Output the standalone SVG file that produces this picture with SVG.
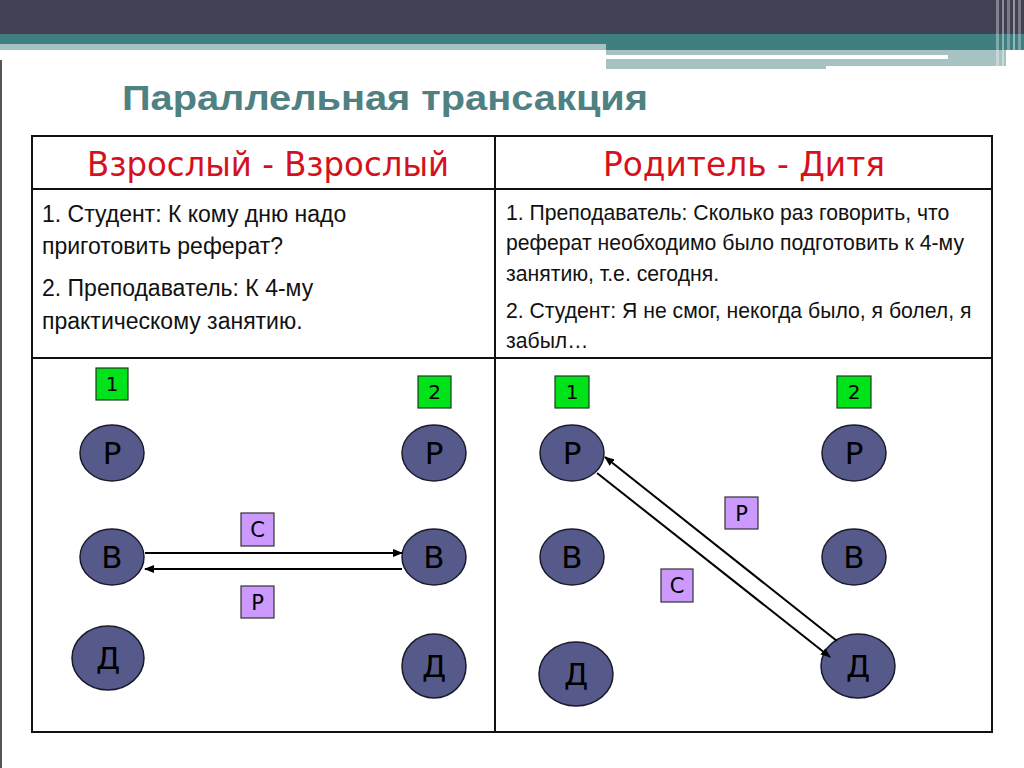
<svg xmlns="http://www.w3.org/2000/svg" width="1024" height="768" viewBox="0 0 1024 768">
<defs>
<style>
.title{font-family:"Liberation Sans",Arial,sans-serif;font-weight:bold;font-size:35px;fill:#4f8182}
.hdr{font-family:"DejaVu Sans","Noto Sans",sans-serif;font-size:34px;fill:#d4111c}
.t1{font-family:"Liberation Sans",Arial,sans-serif;font-size:23px;fill:#111}
.t2{font-family:"Liberation Sans",Arial,sans-serif;font-size:21.2px;fill:#111}
.grid{stroke:#111;stroke-width:2;fill:none}
.ego{fill:#565a8b;stroke:#1b1b2b;stroke-width:1.5}
.el{font-family:"DejaVu Sans","Noto Sans",sans-serif;font-size:31px;fill:#000;text-anchor:middle}
.num{fill:#00e21a;stroke:#1d3b1d;stroke-width:1.2}
.numt{font-family:"DejaVu Sans","Noto Sans",sans-serif;font-size:20px;fill:#000;text-anchor:middle}
.lab{fill:#cc99ff;stroke:#333;stroke-width:1.2}
.labt{font-family:"DejaVu Sans","Noto Sans",sans-serif;font-size:21px;fill:#000;text-anchor:middle}
.arr{stroke:#000;stroke-width:2;fill:none;marker-end:url(#ah)}
</style>
<marker id="ah" markerUnits="userSpaceOnUse" markerWidth="10" markerHeight="8" refX="9" refY="4" orient="auto">
<path d="M0,0 L10,4 L0,8 Z" fill="#000"/>
</marker>
</defs>
<rect width="1024" height="768" fill="#fff"/>
<g id="header-band">
<rect x="0" y="0" width="1024" height="34" fill="#404152"/>
<rect x="0" y="34" width="1024" height="10" fill="#3f7f80"/>
<rect x="0" y="44" width="606" height="6" fill="#a6c2c3"/>
<rect x="606" y="44" width="418" height="6" fill="#3f7f80"/>
<rect x="606" y="50" width="400" height="5" fill="#a6c2c3"/>
<rect x="606" y="55" width="342" height="4" fill="#ffffff"/>
<rect x="948" y="55" width="58" height="4" fill="#a6c2c3"/>
<rect x="606" y="59" width="220" height="10" fill="#a6c2c3"/>
<rect x="826" y="59" width="180" height="7" fill="#a6c2c3"/>
<rect x="996" y="0" width="3" height="68" fill="#ffffff" opacity="0.35"/>
<rect x="1002" y="0" width="2" height="68" fill="#ffffff" opacity="0.4"/>
<rect x="1007" y="0" width="3" height="68" fill="#ffffff" opacity="0.3"/>
<rect x="1013" y="0" width="2" height="68" fill="#ffffff" opacity="0.45"/>
<rect x="1018" y="0" width="3" height="68" fill="#ffffff" opacity="0.3"/>
<rect x="0" y="60" width="2" height="708" fill="#555"/>
</g>
<g id="title">
<text class="title" x="122" y="110" textLength="526" lengthAdjust="spacingAndGlyphs">Параллельная трансакция</text>
</g>
<g id="table">
<rect class="grid" x="32" y="136" width="960" height="596" stroke-width="2.5"/>
<line class="grid" x1="32" y1="189" x2="992" y2="189"/>
<line class="grid" x1="32" y1="358" x2="992" y2="358"/>
<line class="grid" x1="495" y1="136" x2="495" y2="732"/>
<text class="hdr" x="268" y="176" text-anchor="middle" textLength="362" lengthAdjust="spacingAndGlyphs">Взрослый - Взрослый</text>
<text class="hdr" x="744" y="176" text-anchor="middle" textLength="282" lengthAdjust="spacingAndGlyphs">Родитель - Дитя</text>
<text class="t1" x="42" y="222">1. Студент: К кому дню надо</text>
<text class="t1" x="42" y="254">приготовить реферат?</text>
<text class="t1" x="42" y="296">2. Преподаватель: К 4-му</text>
<text class="t1" x="42" y="329">практическому занятию.</text>
<text class="t2" x="506" y="220">1. Преподаватель: Сколько раз говорить, что</text>
<text class="t2" x="506" y="250">реферат необходимо было подготовить к 4-му</text>
<text class="t2" x="506" y="281">занятию, т.е. сегодня.</text>
<text class="t2" x="506" y="318">2. Студент: Я не смог, некогда было, я болел, я</text>
<text class="t2" x="506" y="348">забыл…</text>
</g>
<g id="left-num1"><rect class="num" x="96" y="368" width="32" height="32"/><text class="numt" x="112" y="391">1</text></g>
<g id="left-num2"><rect class="num" x="418" y="376" width="33" height="32"/><text class="numt" x="434.5" y="399">2</text></g>
<g id="left-P1"><ellipse class="ego" cx="112" cy="453" rx="32" ry="28"/><text class="el" x="112" y="464">Р</text></g>
<g id="left-B1"><ellipse class="ego" cx="112" cy="557" rx="32" ry="28"/><text class="el" x="112" y="568">В</text></g>
<g id="left-D1"><ellipse class="ego" cx="108" cy="658" rx="36" ry="32"/><text class="el" x="108" y="669">Д</text></g>
<g id="left-P2"><ellipse class="ego" cx="434" cy="453" rx="32" ry="28"/><text class="el" x="434" y="464">Р</text></g>
<g id="left-B2"><ellipse class="ego" cx="434" cy="557" rx="32" ry="28"/><text class="el" x="434" y="568">В</text></g>
<g id="left-D2"><ellipse class="ego" cx="434" cy="666" rx="32" ry="32"/><text class="el" x="434" y="677">Д</text></g>
<g id="left-labC"><rect class="lab" x="241" y="513" width="33" height="33"/><text class="labt" x="257.5" y="537">С</text></g>
<g id="left-labP"><rect class="lab" x="241" y="586" width="33" height="32"/><text class="labt" x="257.5" y="610">Р</text></g>
<g id="right-num1"><rect class="num" x="555" y="376" width="34" height="32"/><text class="numt" x="572" y="399">1</text></g>
<g id="right-num2"><rect class="num" x="837" y="376" width="34" height="32"/><text class="numt" x="854" y="399">2</text></g>
<g id="right-P1"><ellipse class="ego" cx="572" cy="453" rx="32" ry="28"/><text class="el" x="572" y="464">Р</text></g>
<g id="right-B1"><ellipse class="ego" cx="572" cy="557" rx="32" ry="28"/><text class="el" x="572" y="568">В</text></g>
<g id="right-D1"><ellipse class="ego" cx="576" cy="674" rx="37" ry="32"/><text class="el" x="576" y="685">Д</text></g>
<g id="right-P2"><ellipse class="ego" cx="854" cy="453" rx="32" ry="28"/><text class="el" x="854" y="464">Р</text></g>
<g id="right-B2"><ellipse class="ego" cx="854" cy="557" rx="32" ry="28"/><text class="el" x="854" y="568">В</text></g>
<g id="right-D2"><ellipse class="ego" cx="858" cy="666" rx="37" ry="32"/><text class="el" x="858" y="677">Д</text></g>
<g id="right-labP"><rect class="lab" x="725" y="497" width="33" height="32"/><text class="labt" x="741.5" y="521">Р</text></g>
<g id="right-labC"><rect class="lab" x="661" y="569" width="32" height="33"/><text class="labt" x="677" y="593">С</text></g>
<g id="connectors">
<line class="arr" x1="145" y1="553" x2="402" y2="553"/>
<line class="arr" x1="402" y1="569" x2="145" y2="569"/>
<line class="arr" x1="837" y1="641" x2="605" y2="457"/>
<line class="arr" x1="597" y1="473" x2="830" y2="657"/>
</g>
</svg>
